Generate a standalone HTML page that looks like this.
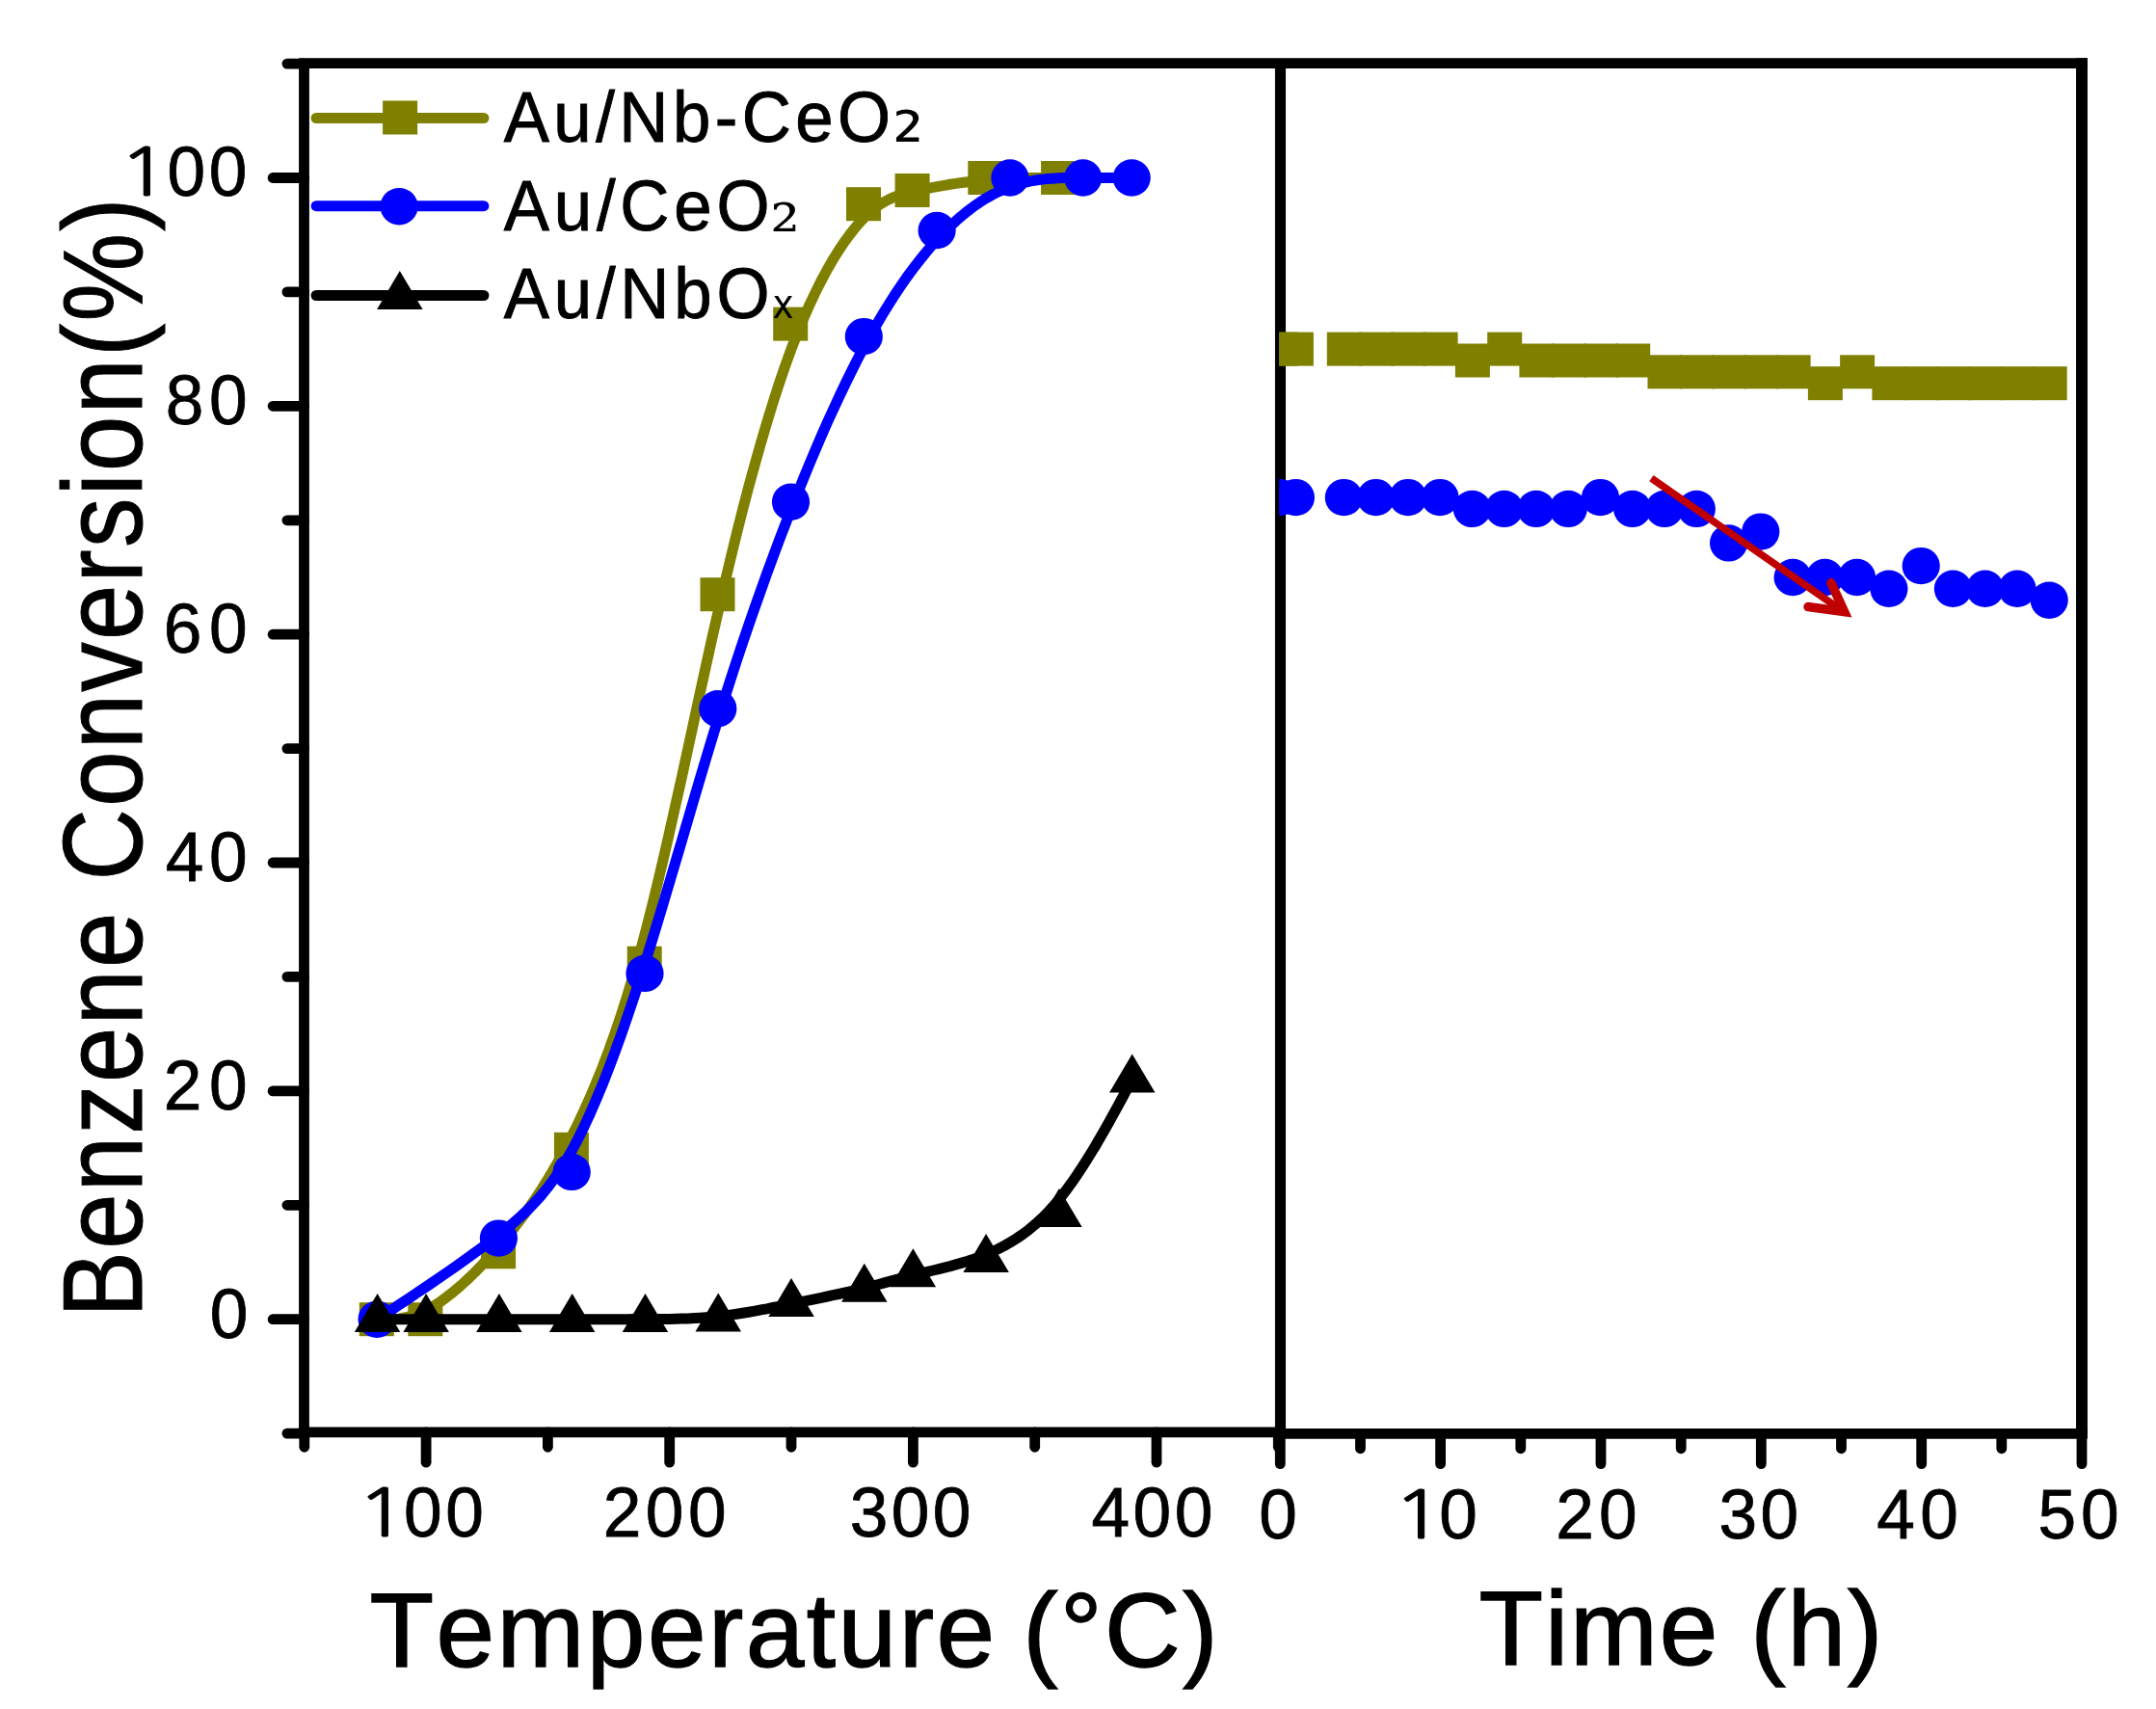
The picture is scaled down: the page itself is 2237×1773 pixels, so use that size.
<!DOCTYPE html>
<html><head><meta charset="utf-8"><title>Benzene conversion</title>
<style>html,body{margin:0;padding:0;background:#fff}body{width:2237px;height:1773px;overflow:hidden}</style></head>
<body>
<svg width="2237" height="1773" viewBox="0 0 2237 1773" style="display:block">
<rect width="2237" height="1773" fill="#fff"/>
<g stroke="#000" stroke-width="10.8" fill="none" stroke-linecap="butt">
<path d="M310.1,65.6 H2165.9" stroke-width="10.6"/>
<path d="M315.5,65.6 V1485.9" stroke-width="10.8"/>
<path d="M1328.5,65.6 V1487.4" stroke-width="11.1"/>
<path d="M2160.0,60.3 V1487.4" stroke-width="11.9"/>
<path d="M310.1,1485.9 H1328.3" stroke-width="10.6"/>
<path d="M1328.3,1487.4 H2165.9" stroke-width="10.6"/>
</g>
<g stroke="#000" stroke-width="10.8" fill="none" stroke-linecap="round">
<path d="M315.5,1487.1 H297.9"/>
<path d="M315.5,1368.7 H283.1"/>
<path d="M315.5,1250.3 H297.9"/>
<path d="M315.5,1131.9 H283.1"/>
<path d="M315.5,1013.4 H297.9"/>
<path d="M315.5,895.0 H283.1"/>
<path d="M315.5,776.6 H297.9"/>
<path d="M315.5,658.2 H283.1"/>
<path d="M315.5,539.8 H297.9"/>
<path d="M315.5,421.3 H283.1"/>
<path d="M315.5,302.9 H297.9"/>
<path d="M315.5,184.5 H283.1"/>
<path d="M315.5,66.1 H297.9"/>
<path d="M315.8,1485.9 V1501.3"/>
<path d="M442.1,1485.9 V1517.2"/>
<path d="M568.4,1485.9 V1501.3"/>
<path d="M694.7,1485.9 V1517.2"/>
<path d="M821.0,1485.9 V1501.3"/>
<path d="M947.4,1485.9 V1517.2"/>
<path d="M1073.7,1485.9 V1501.3"/>
<path d="M1200.0,1485.9 V1517.2"/>
<path d="M1326.3,1485.9 V1501.3"/>
<path d="M1328.3,1487.4 V1518.7"/>
<path d="M1411.5,1487.4 V1502.8"/>
<path d="M1494.6,1487.4 V1518.7"/>
<path d="M1577.8,1487.4 V1502.8"/>
<path d="M1661.0,1487.4 V1518.7"/>
<path d="M1744.2,1487.4 V1502.8"/>
<path d="M1827.3,1487.4 V1518.7"/>
<path d="M1910.5,1487.4 V1502.8"/>
<path d="M1993.7,1487.4 V1518.7"/>
<path d="M2076.8,1487.4 V1502.8"/>
<path d="M2160.0,1487.4 V1518.7"/>
</g>
<g fill="none" stroke-width="11.0" stroke-linejoin="round" stroke-linecap="round">
<path d="M391.6,1368.7 L391.6,1368.7 L391.6,1368.7 L391.7,1368.7 L391.9,1368.7 L392.2,1368.7 L392.6,1368.7 L393.2,1368.7 L394.1,1368.7 L395.1,1368.7 L396.4,1368.7 L398.1,1368.7 L400.0,1368.7 L402.3,1368.7 L404.9,1368.6 L407.8,1368.5 L411.1,1368.3 L414.6,1367.9 L418.4,1367.2 L422.5,1366.4 L426.8,1365.2 L431.4,1363.8 L436.2,1362.0 L441.1,1359.7 L446.3,1357.1 L451.7,1353.9 L457.2,1350.3 L462.8,1346.2 L468.6,1341.7 L474.5,1336.8 L480.5,1331.5 L486.6,1325.9 L492.8,1319.9 L499.0,1313.5 L505.3,1306.9 L511.6,1299.9 L517.9,1292.7 L524.2,1285.2 L530.5,1277.5 L536.8,1269.4 L543.2,1261.0 L549.5,1252.2 L555.8,1243.0 L562.1,1233.4 L568.4,1223.3 L574.7,1212.7 L581.0,1201.7 L587.4,1190.0 L593.7,1177.8 L600.0,1165.1 L606.3,1151.6 L612.6,1137.4 L618.9,1122.5 L625.3,1106.7 L631.6,1090.0 L637.9,1072.3 L644.2,1053.7 L650.5,1033.9 L656.8,1013.1 L663.2,991.0 L669.5,967.7 L675.8,943.0 L682.1,917.3 L688.4,890.5 L694.7,863.0 L701.0,834.8 L707.4,806.2 L713.7,777.2 L720.0,748.1 L726.3,719.0 L732.6,690.2 L738.9,661.7 L745.3,633.7 L751.6,606.4 L757.9,579.9 L764.2,554.1 L770.5,529.2 L776.8,505.0 L783.2,481.8 L789.5,459.4 L795.8,438.0 L802.1,417.5 L808.4,398.0 L814.7,379.5 L821.0,362.1 L827.4,345.8 L833.7,330.5 L839.9,316.3 L846.2,303.0 L852.3,290.8 L858.4,279.5 L864.4,269.1 L870.3,259.6 L876.1,251.0 L881.8,243.2 L887.3,236.3 L892.6,230.1 L897.8,224.7 L902.8,220.0 L907.8,215.9 L912.6,212.4 L917.4,209.5 L922.1,207.0 L926.8,204.8 L931.6,203.0 L936.4,201.4 L941.4,200.1 L946.4,198.9 L951.6,197.7 L956.9,196.6 L962.4,195.5 L968.1,194.4 L973.9,193.3 L979.8,192.3 L985.8,191.3 L991.9,190.4 L998.0,189.5 L1004.3,188.7 L1010.5,187.9 L1016.8,187.3 L1023.1,186.7 L1029.5,186.2 L1035.7,185.8 L1041.9,185.4 L1047.9,185.1 L1053.8,184.9 L1059.5,184.8 L1064.9,184.7 L1069.9,184.6 L1074.7,184.5 L1079.0,184.5 L1082.9,184.5 L1086.3,184.5 L1089.2,184.5 L1091.6,184.5 L1093.6,184.5 L1095.2,184.5 L1096.4,184.5 L1097.4,184.5 L1098.0,184.5 L1098.5,184.5 L1098.7,184.5 L1098.9,184.5 L1098.9,184.5 L1098.9,184.5" stroke="#808000"/>
</g>
<rect x="372.8" y="1351.2" width="36.0" height="35.0" fill="#808000"/>
<rect x="423.3" y="1351.2" width="36.0" height="35.0" fill="#808000"/>
<rect x="499.1" y="1281.3" width="36.0" height="35.0" fill="#808000"/>
<rect x="574.9" y="1174.8" width="36.0" height="35.0" fill="#808000"/>
<rect x="650.7" y="981.7" width="36.0" height="35.0" fill="#808000"/>
<rect x="726.5" y="599.2" width="36.0" height="35.0" fill="#808000"/>
<rect x="802.2" y="318.6" width="36.0" height="35.0" fill="#808000"/>
<rect x="878.0" y="194.2" width="36.0" height="35.0" fill="#808000"/>
<rect x="928.6" y="180.0" width="36.0" height="35.0" fill="#808000"/>
<rect x="1004.3" y="167.0" width="36.0" height="35.0" fill="#808000"/>
<rect x="1080.1" y="167.0" width="36.0" height="35.0" fill="#808000"/>
<path d="M391.6,1368.7 L391.6,1368.7 L391.7,1368.6 L391.9,1368.5 L392.4,1368.2 L393.1,1367.7 L394.2,1366.9 L395.8,1365.9 L397.8,1364.5 L400.5,1362.8 L403.8,1360.6 L407.8,1357.9 L412.6,1354.7 L418.3,1350.9 L424.8,1346.6 L431.9,1341.8 L439.6,1336.6 L447.8,1331.1 L456.3,1325.2 L465.1,1319.2 L474.1,1312.9 L483.1,1306.5 L492.1,1300.1 L500.9,1293.6 L509.5,1287.2 L517.7,1280.9 L525.6,1274.6 L533.3,1268.2 L540.7,1261.6 L547.8,1254.9 L554.7,1247.7 L561.5,1240.2 L568.1,1232.1 L574.6,1223.5 L581.0,1214.1 L587.4,1204.0 L593.7,1193.0 L600.0,1181.1 L606.3,1168.3 L612.6,1154.6 L618.9,1140.0 L625.3,1124.7 L631.6,1108.6 L637.9,1091.8 L644.2,1074.3 L650.5,1056.2 L656.8,1037.5 L663.2,1018.2 L669.5,998.4 L675.8,978.2 L682.1,957.5 L688.4,936.5 L694.7,915.3 L701.0,893.9 L707.4,872.3 L713.7,850.8 L720.0,829.3 L726.3,807.9 L732.6,786.7 L738.9,765.8 L745.3,745.2 L751.6,725.0 L757.9,705.3 L764.2,685.9 L770.5,667.0 L776.8,648.4 L783.2,630.1 L789.5,612.3 L795.8,594.7 L802.1,577.6 L808.4,560.7 L814.7,544.2 L821.0,527.9 L827.4,512.0 L833.7,496.4 L840.0,481.0 L846.3,466.1 L852.6,451.4 L858.9,437.1 L865.3,423.2 L871.6,409.6 L877.9,396.5 L884.2,383.7 L890.5,371.3 L896.8,359.4 L903.1,347.8 L909.5,336.7 L915.8,326.0 L922.1,315.8 L928.4,305.9 L934.7,296.5 L941.0,287.4 L947.4,278.8 L953.7,270.6 L960.0,262.7 L966.3,255.3 L972.6,248.2 L978.9,241.6 L985.3,235.3 L991.6,229.4 L997.9,223.9 L1004.2,218.8 L1010.5,214.0 L1016.8,209.7 L1023.1,205.7 L1029.5,202.1 L1035.8,198.9 L1042.1,196.0 L1048.4,193.6 L1054.7,191.5 L1061.0,189.8 L1067.3,188.3 L1073.5,187.2 L1079.7,186.3 L1085.8,185.6 L1091.8,185.2 L1097.7,184.8 L1103.5,184.6 L1109.1,184.5 L1114.6,184.5 L1120.0,184.5 L1125.2,184.5 L1130.1,184.5 L1134.9,184.5 L1139.5,184.5 L1143.8,184.5 L1147.9,184.5 L1151.7,184.5 L1155.2,184.5 L1158.5,184.5 L1161.4,184.5 L1164.0,184.5 L1166.3,184.5 L1168.2,184.5 L1169.9,184.5 L1171.2,184.5 L1172.2,184.5 L1173.1,184.5 L1173.7,184.5 L1174.1,184.5 L1174.4,184.5 L1174.6,184.5 L1174.7,184.5 L1174.7,184.5 L1174.7,184.5" stroke="#0000ff" fill="none" stroke-width="11.0" stroke-linejoin="round" stroke-linecap="round"/>
<ellipse cx="391.1" cy="1368.7" rx="19.6" ry="19.2" fill="#0000ff"/>
<ellipse cx="517.4" cy="1284.6" rx="19.6" ry="19.2" fill="#0000ff"/>
<ellipse cx="593.2" cy="1215.9" rx="19.6" ry="19.2" fill="#0000ff"/>
<ellipse cx="669.0" cy="1009.9" rx="19.6" ry="19.2" fill="#0000ff"/>
<ellipse cx="744.8" cy="735.2" rx="19.6" ry="19.2" fill="#0000ff"/>
<ellipse cx="820.5" cy="520.8" rx="19.6" ry="19.2" fill="#0000ff"/>
<ellipse cx="896.3" cy="349.1" rx="19.6" ry="19.2" fill="#0000ff"/>
<ellipse cx="972.1" cy="239.0" rx="19.6" ry="19.2" fill="#0000ff"/>
<ellipse cx="1047.9" cy="184.5" rx="19.6" ry="19.2" fill="#0000ff"/>
<ellipse cx="1123.7" cy="184.5" rx="19.6" ry="19.2" fill="#0000ff"/>
<ellipse cx="1174.2" cy="184.5" rx="19.6" ry="19.2" fill="#0000ff"/>
<path d="M391.6,1368.7 L391.6,1368.7 L391.6,1368.7 L391.7,1368.7 L391.9,1368.7 L392.2,1368.7 L392.6,1368.7 L393.2,1368.7 L394.1,1368.7 L395.1,1368.7 L396.4,1368.7 L398.1,1368.7 L400.0,1368.7 L402.3,1368.7 L404.9,1368.7 L407.8,1368.7 L411.1,1368.7 L414.6,1368.7 L418.4,1368.7 L422.5,1368.7 L426.8,1368.7 L431.4,1368.7 L436.2,1368.7 L441.1,1368.7 L446.3,1368.7 L451.7,1368.7 L457.2,1368.7 L462.8,1368.7 L468.6,1368.7 L474.5,1368.7 L480.5,1368.7 L486.6,1368.7 L492.8,1368.7 L499.0,1368.7 L505.3,1368.7 L511.6,1368.7 L517.9,1368.7 L524.2,1368.7 L530.5,1368.7 L536.8,1368.7 L543.2,1368.7 L549.5,1368.7 L555.8,1368.7 L562.1,1368.7 L568.4,1368.7 L574.7,1368.7 L581.0,1368.7 L587.4,1368.7 L593.7,1368.7 L600.0,1368.7 L606.3,1368.7 L612.6,1368.7 L618.9,1368.7 L625.3,1368.7 L631.6,1368.7 L637.9,1368.7 L644.2,1368.7 L650.5,1368.7 L656.8,1368.6 L663.2,1368.6 L669.5,1368.6 L675.8,1368.6 L682.1,1368.5 L688.4,1368.5 L694.7,1368.4 L701.0,1368.3 L707.4,1368.1 L713.7,1367.9 L720.0,1367.6 L726.3,1367.2 L732.6,1366.8 L738.9,1366.3 L745.3,1365.6 L751.6,1364.9 L757.9,1364.1 L764.2,1363.2 L770.5,1362.2 L776.8,1361.2 L783.2,1360.1 L789.5,1358.9 L795.8,1357.8 L802.1,1356.5 L808.4,1355.3 L814.7,1354.0 L821.0,1352.7 L827.4,1351.4 L833.7,1350.1 L839.9,1348.9 L846.2,1347.6 L852.3,1346.3 L858.4,1345.0 L864.4,1343.7 L870.3,1342.5 L876.1,1341.2 L881.8,1339.9 L887.3,1338.6 L892.6,1337.3 L897.8,1336.0 L902.8,1334.8 L907.8,1333.5 L912.6,1332.2 L917.4,1330.9 L922.1,1329.6 L926.8,1328.3 L931.6,1327.1 L936.4,1325.8 L941.4,1324.5 L946.4,1323.2 L951.6,1321.9 L956.9,1320.6 L962.4,1319.3 L968.1,1318.0 L973.9,1316.6 L979.8,1315.1 L985.8,1313.6 L991.9,1311.9 L998.0,1310.1 L1004.3,1308.2 L1010.5,1306.1 L1016.8,1303.8 L1023.1,1301.3 L1029.5,1298.6 L1035.8,1295.6 L1042.1,1292.4 L1048.4,1288.8 L1054.7,1284.9 L1061.0,1280.6 L1067.4,1275.8 L1073.7,1270.6 L1080.0,1264.8 L1086.3,1258.6 L1092.6,1251.7 L1098.9,1244.3 L1105.2,1236.2 L1111.5,1227.6 L1117.7,1218.6 L1123.7,1209.4 L1129.6,1200.1 L1135.3,1190.9 L1140.6,1181.7 L1145.7,1172.9 L1150.5,1164.5 L1154.8,1156.7 L1158.7,1149.6 L1162.1,1143.3 L1165.0,1138.0 L1167.4,1133.5 L1169.4,1129.8 L1171.0,1126.9 L1172.2,1124.6 L1173.1,1122.9 L1173.8,1121.7 L1174.3,1120.9 L1174.5,1120.4 L1174.7,1120.1 L1174.7,1120.0 L1174.7,1120.0" stroke="#000000" fill="none" stroke-width="11.0" stroke-linejoin="round" stroke-linecap="round"/>
<path d="M391.6,1342.0 L415.3,1382.0 L367.8,1382.0Z" fill="#000000"/>
<path d="M442.1,1342.0 L465.9,1382.0 L418.4,1382.0Z" fill="#000000"/>
<path d="M517.9,1342.0 L541.6,1382.0 L494.1,1382.0Z" fill="#000000"/>
<path d="M593.7,1342.0 L617.4,1382.0 L569.9,1382.0Z" fill="#000000"/>
<path d="M669.5,1342.0 L693.2,1382.0 L645.7,1382.0Z" fill="#000000"/>
<path d="M745.3,1341.4 L769.0,1381.4 L721.5,1381.4Z" fill="#000000"/>
<path d="M821.0,1326.0 L844.8,1366.0 L797.3,1366.0Z" fill="#000000"/>
<path d="M896.8,1310.7 L920.6,1350.7 L873.1,1350.7Z" fill="#000000"/>
<path d="M947.4,1295.3 L971.1,1335.3 L923.6,1335.3Z" fill="#000000"/>
<path d="M1023.1,1279.9 L1046.9,1319.9 L999.4,1319.9Z" fill="#000000"/>
<path d="M1098.9,1233.1 L1122.7,1273.1 L1075.2,1273.1Z" fill="#000000"/>
<path d="M1174.7,1093.4 L1198.5,1133.4 L1151.0,1133.4Z" fill="#000000"/>
<defs><clipPath id="c2"><rect x="1327.2" y="71" width="832.8" height="1416.4"/></clipPath></defs>
<g clip-path="url(#c2)">
<rect x="1310.3" y="344.6" width="36.0" height="35.0" fill="#808000"/>
<rect x="1326.9" y="344.6" width="36.0" height="35.0" fill="#808000"/>
<rect x="1376.8" y="344.6" width="36.0" height="35.0" fill="#808000"/>
<rect x="1410.1" y="344.6" width="36.0" height="35.0" fill="#808000"/>
<rect x="1443.4" y="344.6" width="36.0" height="35.0" fill="#808000"/>
<rect x="1476.6" y="344.6" width="36.0" height="35.0" fill="#808000"/>
<rect x="1509.9" y="356.5" width="36.0" height="35.0" fill="#808000"/>
<rect x="1543.2" y="344.6" width="36.0" height="35.0" fill="#808000"/>
<rect x="1576.4" y="356.5" width="36.0" height="35.0" fill="#808000"/>
<rect x="1609.7" y="356.5" width="36.0" height="35.0" fill="#808000"/>
<rect x="1643.0" y="356.5" width="36.0" height="35.0" fill="#808000"/>
<rect x="1676.2" y="356.5" width="36.0" height="35.0" fill="#808000"/>
<rect x="1709.5" y="368.3" width="36.0" height="35.0" fill="#808000"/>
<rect x="1742.8" y="368.3" width="36.0" height="35.0" fill="#808000"/>
<rect x="1776.1" y="368.3" width="36.0" height="35.0" fill="#808000"/>
<rect x="1809.3" y="368.3" width="36.0" height="35.0" fill="#808000"/>
<rect x="1842.6" y="368.3" width="36.0" height="35.0" fill="#808000"/>
<rect x="1875.9" y="380.2" width="36.0" height="35.0" fill="#808000"/>
<rect x="1909.1" y="368.3" width="36.0" height="35.0" fill="#808000"/>
<rect x="1942.4" y="380.2" width="36.0" height="35.0" fill="#808000"/>
<rect x="1975.7" y="380.2" width="36.0" height="35.0" fill="#808000"/>
<rect x="2008.9" y="380.2" width="36.0" height="35.0" fill="#808000"/>
<rect x="2042.2" y="380.2" width="36.0" height="35.0" fill="#808000"/>
<rect x="2075.5" y="380.2" width="36.0" height="35.0" fill="#808000"/>
<rect x="2108.7" y="380.2" width="36.0" height="35.0" fill="#808000"/>
<ellipse cx="1327.8" cy="516.1" rx="19.6" ry="19.2" fill="#0000ff"/>
<ellipse cx="1344.4" cy="516.1" rx="19.6" ry="19.2" fill="#0000ff"/>
<ellipse cx="1394.3" cy="516.1" rx="19.6" ry="19.2" fill="#0000ff"/>
<ellipse cx="1427.6" cy="516.1" rx="19.6" ry="19.2" fill="#0000ff"/>
<ellipse cx="1460.9" cy="516.1" rx="19.6" ry="19.2" fill="#0000ff"/>
<ellipse cx="1494.1" cy="516.1" rx="19.6" ry="19.2" fill="#0000ff"/>
<ellipse cx="1527.4" cy="527.9" rx="19.6" ry="19.2" fill="#0000ff"/>
<ellipse cx="1560.7" cy="527.9" rx="19.6" ry="19.2" fill="#0000ff"/>
<ellipse cx="1593.9" cy="527.9" rx="19.6" ry="19.2" fill="#0000ff"/>
<ellipse cx="1627.2" cy="527.9" rx="19.6" ry="19.2" fill="#0000ff"/>
<ellipse cx="1660.5" cy="516.1" rx="19.6" ry="19.2" fill="#0000ff"/>
<ellipse cx="1693.7" cy="527.9" rx="19.6" ry="19.2" fill="#0000ff"/>
<ellipse cx="1727.0" cy="527.9" rx="19.6" ry="19.2" fill="#0000ff"/>
<ellipse cx="1760.3" cy="527.9" rx="19.6" ry="19.2" fill="#0000ff"/>
<ellipse cx="1793.6" cy="563.4" rx="19.6" ry="19.2" fill="#0000ff"/>
<ellipse cx="1826.8" cy="551.6" rx="19.6" ry="19.2" fill="#0000ff"/>
<ellipse cx="1860.1" cy="599.0" rx="19.6" ry="19.2" fill="#0000ff"/>
<ellipse cx="1893.4" cy="599.0" rx="19.6" ry="19.2" fill="#0000ff"/>
<ellipse cx="1926.6" cy="599.0" rx="19.6" ry="19.2" fill="#0000ff"/>
<ellipse cx="1959.9" cy="610.8" rx="19.6" ry="19.2" fill="#0000ff"/>
<ellipse cx="1993.2" cy="587.1" rx="19.6" ry="19.2" fill="#0000ff"/>
<ellipse cx="2026.4" cy="610.8" rx="19.6" ry="19.2" fill="#0000ff"/>
<ellipse cx="2059.7" cy="610.8" rx="19.6" ry="19.2" fill="#0000ff"/>
<ellipse cx="2093.0" cy="610.8" rx="19.6" ry="19.2" fill="#0000ff"/>
<ellipse cx="2126.2" cy="622.7" rx="19.6" ry="19.2" fill="#0000ff"/>
</g>
<g stroke="#c00000" stroke-width="7.6" fill="none">
<path d="M1713.4,496.2 L1914.7,635.8" stroke-linecap="butt"/>
<path d="M1899.9,604.7 L1913.6,634.6 L1876.0,629.5" stroke-width="9.5" stroke-linecap="round" stroke-linejoin="miter"/>
</g>
<g stroke-width="11.0" stroke-linecap="round" fill="none">
<path d="M328.1,122.5 H501.9" stroke="#808000"/>
<path d="M328.1,213.7 H501.9" stroke="#0000ff"/>
<path d="M328.1,306.5 H501.9" stroke="#000000"/>
</g>
<rect x="397.1" y="104.5" width="36.0" height="35.0" fill="#808000"/>
<ellipse cx="414.1" cy="214.2" rx="19.6" ry="19.2" fill="#0000ff"/>
<path d="M414.8,281.0 L438.6,321.0 L391.1,321.0Z" fill="#000000"/>
<g transform="translate(217.80,1387.50) scale(1.0000,1.0250)"><text font-family="Liberation Sans, Arial, sans-serif" style="font-kerning:none" font-size="71.25" letter-spacing="0.000" stroke="#000" stroke-width="0.80" fill="#000">0</text></g>
<g transform="translate(169.80,1150.66) scale(1.0000,1.0250)"><text font-family="Liberation Sans, Arial, sans-serif" style="font-kerning:none" font-size="71.25" letter-spacing="7.500" stroke="#000" stroke-width="0.80" fill="#000">20</text></g>
<g transform="translate(171.80,913.82) scale(1.0000,1.0250)"><text font-family="Liberation Sans, Arial, sans-serif" style="font-kerning:none" font-size="71.25" letter-spacing="5.500" stroke="#000" stroke-width="0.80" fill="#000">40</text></g>
<g transform="translate(169.80,676.98) scale(1.0000,1.0250)"><text font-family="Liberation Sans, Arial, sans-serif" style="font-kerning:none" font-size="71.25" letter-spacing="7.500" stroke="#000" stroke-width="0.80" fill="#000">60</text></g>
<g transform="translate(171.80,440.14) scale(1.0000,1.0250)"><text font-family="Liberation Sans, Arial, sans-serif" style="font-kerning:none" font-size="71.25" letter-spacing="5.500" stroke="#000" stroke-width="0.80" fill="#000">80</text></g>
<g transform="translate(122.36,203.30) scale(1.2840,0.9850)"><text font-family="NanumGothic, Liberation Sans, sans-serif" font-size="70.00" letter-spacing="0.000" stroke="#000" stroke-width="0.80" fill="#000">1</text></g><g transform="translate(173.50,203.30) scale(1.0000,1.0250)"><text font-family="Liberation Sans, Arial, sans-serif" style="font-kerning:none" font-size="71.25" letter-spacing="3.600" stroke="#000" stroke-width="0.80" fill="#000">00</text></g>
<g transform="translate(369.36,1594.40) scale(1.2840,0.9850)"><text font-family="NanumGothic, Liberation Sans, sans-serif" font-size="70.00" letter-spacing="0.000" stroke="#000" stroke-width="0.80" fill="#000">1</text></g><g transform="translate(418.90,1594.40) scale(1.0000,1.0250)"><text font-family="Liberation Sans, Arial, sans-serif" style="font-kerning:none" font-size="71.25" letter-spacing="3.700" stroke="#000" stroke-width="0.80" fill="#000">00</text></g>
<g transform="translate(625.80,1594.40) scale(1.0000,1.0250)"><text font-family="Liberation Sans, Arial, sans-serif" style="font-kerning:none" font-size="71.25" letter-spacing="4.450" stroke="#000" stroke-width="0.80" fill="#000">200</text></g>
<g transform="translate(881.70,1594.40) scale(1.0000,1.0250)"><text font-family="Liberation Sans, Arial, sans-serif" style="font-kerning:none" font-size="71.25" letter-spacing="3.350" stroke="#000" stroke-width="0.80" fill="#000">300</text></g>
<g transform="translate(1132.50,1594.40) scale(1.0000,1.0250)"><text font-family="Liberation Sans, Arial, sans-serif" style="font-kerning:none" font-size="71.25" letter-spacing="3.450" stroke="#000" stroke-width="0.80" fill="#000">400</text></g>
<g transform="translate(1306.25,1595.70) scale(1.0000,1.0250)"><text font-family="Liberation Sans, Arial, sans-serif" style="font-kerning:none" font-size="71.25" letter-spacing="0.000" stroke="#000" stroke-width="0.80" fill="#000">0</text></g>
<g transform="translate(1444.46,1595.70) scale(1.2840,0.9850)"><text font-family="NanumGothic, Liberation Sans, sans-serif" font-size="70.00" letter-spacing="0.000" stroke="#000" stroke-width="0.80" fill="#000">1</text></g><g transform="translate(1493.30,1595.70) scale(1.0000,1.0250)"><text font-family="Liberation Sans, Arial, sans-serif" style="font-kerning:none" font-size="71.25" letter-spacing="0.000" stroke="#000" stroke-width="0.80" fill="#000">0</text></g>
<g transform="translate(1614.35,1595.70) scale(1.0000,1.0250)"><text font-family="Liberation Sans, Arial, sans-serif" style="font-kerning:none" font-size="71.25" letter-spacing="5.100" stroke="#000" stroke-width="0.80" fill="#000">20</text></g>
<g transform="translate(1783.55,1595.70) scale(1.0000,1.0250)"><text font-family="Liberation Sans, Arial, sans-serif" style="font-kerning:none" font-size="71.25" letter-spacing="3.300" stroke="#000" stroke-width="0.80" fill="#000">30</text></g>
<g transform="translate(1947.30,1595.70) scale(1.0000,1.0250)"><text font-family="Liberation Sans, Arial, sans-serif" style="font-kerning:none" font-size="71.25" letter-spacing="5.400" stroke="#000" stroke-width="0.80" fill="#000">40</text></g>
<g transform="translate(2114.50,1595.70) scale(1.0000,1.0250)"><text font-family="Liberation Sans, Arial, sans-serif" style="font-kerning:none" font-size="71.25" letter-spacing="5.000" stroke="#000" stroke-width="0.80" fill="#000">50</text></g>
<g transform="translate(522.70,146.60) scale(1.0000,1.0550)"><text font-family="Liberation Sans, Arial, sans-serif" style="font-kerning:none" font-size="70.80" letter-spacing="4.450" stroke="#000" stroke-width="0.90" fill="#000">Au/Nb-CeO</text></g><g transform="translate(926.18,146.80) scale(1.0300,1.0000)"><text font-family="DejaVu Sans, Liberation Sans, sans-serif" font-size="78.00" letter-spacing="0.000" fill="#000">₂</text></g>
<g transform="translate(522.70,239.40) scale(1.0000,1.0550)"><text font-family="Liberation Sans, Arial, sans-serif" style="font-kerning:none" font-size="70.80" letter-spacing="4.800" stroke="#000" stroke-width="0.90" fill="#000">Au/CeO</text></g><g transform="translate(799.18,239.60) scale(1.0400,1.0000)"><text font-family="DejaVu Serif, Liberation Serif, serif" font-size="74.00" letter-spacing="0.000" fill="#000">₂</text></g>
<g transform="translate(522.70,330.20) scale(1.0000,1.0550)"><text font-family="Liberation Sans, Arial, sans-serif" style="font-kerning:none" font-size="70.80" letter-spacing="4.800" stroke="#000" stroke-width="0.90" fill="#000">Au/NbO</text></g><g transform="translate(799.37,330.10) scale(0.7670,1.0000)"><text font-family="DejaVu Sans, Liberation Sans, sans-serif" font-size="77.00" letter-spacing="0.000" fill="#000">ₓ</text></g>
<g transform="translate(383.50,1729.30) scale(1.0000,1.0000)"><text font-family="Liberation Sans, Arial, sans-serif" style="font-kerning:none" font-size="109.00" letter-spacing="2.453" word-spacing="-6.00" stroke="#000" stroke-width="1.40" fill="#000">Temperature (°C)</text></g>
<g transform="translate(1534.50,1727.30) scale(1.0000,1.0000)"><text font-family="Liberation Sans, Arial, sans-serif" style="font-kerning:none" font-size="109.00" letter-spacing="1.857" stroke="#000" stroke-width="1.40" fill="#000">Time (h)</text></g>
<g transform="translate(146.90,1366.70) rotate(-90) scale(1.0000,1.1350)"><text font-family="Liberation Sans, Arial, sans-serif" style="font-kerning:none" font-size="103.00" letter-spacing="2.255" stroke="#000" stroke-width="0.90" fill="#000">Benzene Conversion(%)</text></g>
</svg>
</body></html>
